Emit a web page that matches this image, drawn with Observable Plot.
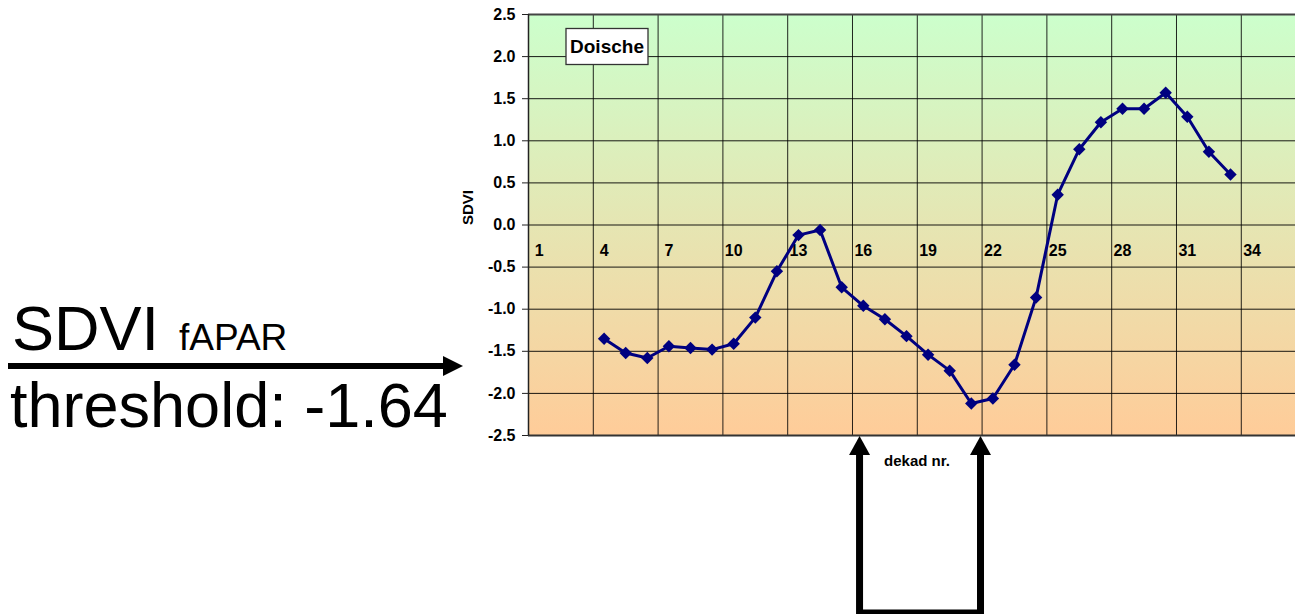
<!DOCTYPE html>
<html>
<head>
<meta charset="utf-8">
<script src="https://cdn.jsdelivr.net/npm/d3@7"></script>
<script src="https://cdn.jsdelivr.net/npm/@observablehq/plot@0.6"></script>
<style>
  html, body { margin: 0; padding: 0; background: #fff; overflow: hidden; }
  #chart svg { display: block; }
</style>
</head>
<body>
<div id="chart"></div>
<script>
// ---- data ----
const dekads = [4, 5, 6, 7, 8, 9, 10, 11, 12, 13, 14, 15, 16, 17, 18, 19, 20, 21, 22, 23, 24, 25, 26, 27, 28, 29, 30, 31, 32, 33];
const sdvi   = [-1.35, -1.52, -1.58, -1.44, -1.46, -1.48, -1.41, -1.10, -0.55, -0.12, -0.06, -0.74, -0.96, -1.12, -1.32, -1.54, -1.73, -2.12, -2.06, -1.66, -0.86, 0.36, 0.90, 1.22, 1.38, 1.38, 1.57, 1.285, 0.87, 0.60];
const xTickLabels = [1, 4, 7, 10, 13, 16, 19, 22, 25, 28, 31, 34];
const yTicks = [-2.5, -2.0, -1.5, -1.0, -0.5, 0.0, 0.5, 1.0, 1.5, 2.0, 2.5];
const station = "Doische";
const yLabel = "SDVI";
const xLabel = "dekad nr.";
const threshold = -1.64;
const markedDekads = [15.85, 21.45]; // arrows below the axis
const noteTop = "SDVI";
const noteSub = "fAPAR";
const noteBottom = "threshold: -1.64";

const data = dekads.map((d, i) => ({dekad: d, sdvi: sdvi[i]}));
const xGrid = xTickLabels.map(d => d - 0.5);

const FONT = "'Liberation Sans', Arial, Helvetica, sans-serif";

const defsMark = () => {
  const defs = d3.create("svg:defs");
  const g = defs.append("linearGradient").attr("id", "bg")
    .attr("x1", 0).attr("y1", 0).attr("x2", 0).attr("y2", 1);
  g.append("stop").attr("offset", "0%").attr("stop-color", "#CCFFCC");
  g.append("stop").attr("offset", "100%").attr("stop-color", "#FFCC99");
  return defs.node();
};

const legendBox = (index, scales, values, dims) => {
  const g = d3.create("svg:g");
  const x0 = dims.marginLeft + 38, y0 = dims.marginTop + 14.5;
  g.append("rect").attr("x", x0).attr("y", y0).attr("width", 82).attr("height", 36)
    .attr("fill", "#fff").attr("stroke", "#333").attr("stroke-width", 1.3);
  g.append("text").attr("x", x0 + 41).attr("y", y0 + 18).attr("text-anchor", "middle")
    .attr("dy", "0.36em").attr("font-family", FONT).attr("font-weight", "bold")
    .attr("font-size", 19).attr("fill", "#000").text(station);
  return g.node();
};

const annotations = (index, {x, y}, values, dims) => {
  const g = d3.create("svg:g").attr("font-family", FONT).attr("fill", "#000")
    .attr("text-anchor", "start");
  const ya = y(threshold) + 3.5;
  // left note
  g.append("text").attr("x", 12).attr("y", 350).attr("font-size", 63).text(noteTop);
  g.append("text").attr("x", 179).attr("y", 350).attr("font-size", 37).text(noteSub);
  g.append("text").attr("x", 10).attr("y", 427).attr("font-size", 63).text(noteBottom);
  g.append("line").attr("x1", 8).attr("x2", 446).attr("y1", ya).attr("y2", ya)
    .attr("stroke", "#000").attr("stroke-width", 6);
  g.append("path").attr("d", `M443,${ya - 10}L463,${ya}L443,${ya + 10}Z`).attr("fill", "#000");
  // bottom bracket with arrows
  const [xa, xb] = markedDekads.map(x);
  const yb = dims.height - dims.marginBottom;
  g.append("path").attr("d", `M${xa},${yb + 19}V${dims.height - 1}H${xb}V${yb + 19}`)
    .attr("fill", "none").attr("stroke", "#000").attr("stroke-width", 7).attr("stroke-linejoin", "miter");
  for (const xv of [xa, xb]) {
    g.append("path").attr("d", `M${xv - 10.5},${yb + 20}L${xv},${yb + 1}L${xv + 10.5},${yb + 20}Z`).attr("fill", "#000");
  }
  return g.node();
};

const chart = Plot.plot({
  width: 1295,
  height: 614,
  marginLeft: 528,
  marginRight: 0,
  marginTop: 14,
  marginBottom: 179,
  style: {fontFamily: FONT, background: "transparent", overflow: "hidden"},
  x: {domain: [0.5, 36.01], axis: null},
  y: {domain: [-2.5, 2.5], axis: null},
  marks: [
    defsMark,
    Plot.frame({fill: "url(#bg)"}),
    Plot.ruleY(yTicks, {stroke: "#000", strokeWidth: 1, strokeOpacity: 0.9}),
    Plot.ruleX(xGrid, {stroke: "#000", strokeWidth: 1, strokeOpacity: 0.85}),
    Plot.ruleY([2.5], {stroke: "#444", strokeWidth: 2}),
    Plot.ruleY([-2.5], {stroke: "#333", strokeWidth: 2}),
    Plot.ruleX([0.5], {stroke: "#222", strokeWidth: 1.5}),
    Plot.axisY({ticks: yTicks, tickFormat: d => d.toFixed(1), tickSize: 6, tickPadding: 7,
      fontSize: 16, fontWeight: "bold", label: null, stroke: "#222"}),
    Plot.text(xTickLabels, {x: d => d, y: () => 0, dy: 26, text: d => String(d),
      fontSize: 16, fontWeight: "bold", fill: "#000"}),
    Plot.line(data, {x: "dekad", y: "sdvi", stroke: "#000080", strokeWidth: 3}),
    Plot.dot(data, {x: "dekad", y: "sdvi", symbol: "diamond2", r: 5.6, fill: "#000080", stroke: "none"}),
    Plot.text([yLabel], {frameAnchor: "left", dx: -60, rotate: -90, fontSize: 15, fontWeight: "bold", fill: "#000"}),
    Plot.text([xLabel], {frameAnchor: "bottom", dy: 30, dx: 5, fontSize: 15, fontWeight: "bold", fill: "#000"}),
    legendBox,
    annotations
  ]
});

document.getElementById("chart").appendChild(chart);
</script>
</body>
</html>
